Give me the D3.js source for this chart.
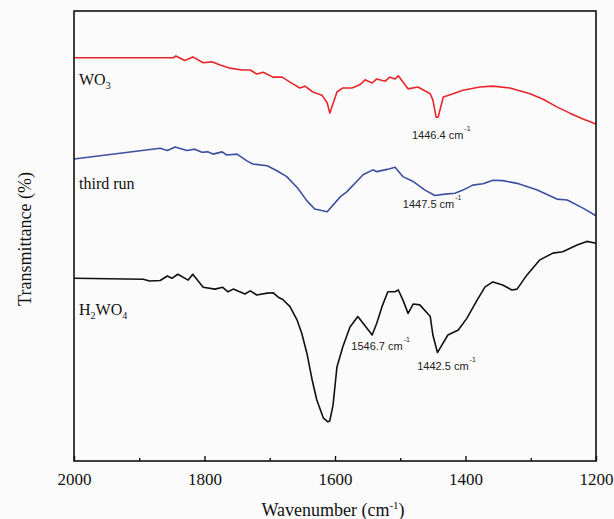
<!DOCTYPE html>
<html>
<head>
<meta charset="utf-8">
<script src="https://cdn.jsdelivr.net/npm/d3@7"></script>
<style>
  html, body { margin: 0; padding: 0; background: #fbfbfb; }
  svg { display: block; }
</style>
</head>
<body>
<svg id="chart" width="614" height="519"></svg>
<script>
// ---- data (wavenumber in cm-1, transmittance in arbitrary %) ----
const wo3Wave = [2000,1848,1844,1830,1818,1802,1789,1776,1761,1743,1730,1720,1710,1695,1681,1669,1654,1646,1634,1620,1612,1608,1597,1588,1574,1562,1554,1543,1536,1523,1516,1508,1503,1488,1473,1454,1450,1445,1442,1434,1419,1404,1378,1358,1332,1301,1281,1260,1240,1220,1200];
const wo3Val  = [89.6,89.6,90.0,89.0,89.8,88.5,88.7,88.0,87.3,86.9,86.9,86.0,86.4,85.3,85.3,84.2,82.9,83.3,82.0,81.3,79.6,77.3,82.0,82.9,82.9,83.6,84.7,84.0,84.9,84.4,85.3,84.9,85.6,82.7,83.1,81.6,80.2,76.4,76.4,80.9,81.6,82.4,83.1,83.3,82.9,81.6,80.4,78.7,77.3,76.0,74.9];

const runWave = [2000,1868,1857,1845,1827,1815,1804,1795,1787,1773,1766,1750,1735,1726,1704,1689,1674,1657,1643,1631,1612,1592,1582,1557,1542,1536,1520,1508,1496,1480,1462,1447,1431,1416,1404,1389,1373,1358,1343,1321,1290,1260,1244,1220,1200];
const runVal  = [67.1,69.5,69.0,69.8,69.0,69.3,68.6,68.7,68.2,68.7,68.0,68.2,66.7,66.0,65.6,64.5,63.2,60.6,57.8,56.0,55.4,58.7,59.8,63.6,64.7,64.3,64.8,65.3,63.2,62.1,60.2,59.0,59.3,59.5,60.2,61.3,61.6,62.4,62.3,61.7,60.2,58.2,58.0,56.2,54.5];

const h2Wave = [2000,1894,1884,1868,1857,1850,1841,1825,1818,1802,1784,1772,1764,1756,1738,1730,1720,1704,1695,1687,1680,1669,1658,1651,1643,1638,1635,1628,1618,1611,1608,1603,1597,1588,1577,1565,1557,1543,1536,1528,1519,1508,1503,1496,1488,1480,1470,1454,1450,1443,1436,1427,1411,1398,1382,1370,1358,1343,1329,1321,1306,1286,1266,1251,1229,1214,1200];
const h2Val  = [40.6,40.4,40.0,40.1,41.1,40.6,41.5,40.2,41.5,38.6,38.2,38.6,37.6,38.2,37.1,37.8,36.9,37.3,37.4,36.4,35.9,34.3,31.3,28.4,23.9,20.2,18.0,13.6,9.6,8.7,8.9,12.4,20.9,25.4,29.8,32.1,30.6,28.0,30.6,34.3,37.6,37.6,38.0,35.8,32.8,34.9,34.7,32.1,28.0,24.1,25.8,28.0,29.1,31.7,35.8,38.7,39.8,39.1,38.0,38.2,41.3,44.7,46.2,46.5,48.0,48.8,48.4];

const xMajorTicks = [2000, 1800, 1600, 1400, 1200];
const xMinorTicks = [1900, 1700, 1500, 1300];

const seriesNames = ["WO3", "third run", "H2WO4"];
const seriesColors = ["#e8262c", "#3d4f9f", "#111111"];

// ---- layout ----
const svg = d3.select("#chart");
const mL = 74, mR = 596, mT = 11, mB = 461;

const x = d3.scaleLinear().domain([2000, 1200]).range([mL, mR]);
const y = d3.scaleLinear().domain([0, 100]).range([mB, mT]);

svg.append("rect").attr("width", 614).attr("height", 519).attr("fill", "#fbfbfb");

const series = [
  {wave: wo3Wave, val: wo3Val},
  {wave: runWave, val: runVal},
  {wave: h2Wave, val: h2Val}
];

const line = d3.line().x(d => x(d[0])).y(d => y(d[1]));

series.forEach((s, i) => {
  const pts = s.wave.map((w, k) => [w, s.val[k]]);
  svg.append("path")
    .datum(pts)
    .attr("d", line)
    .attr("fill", "none")
    .attr("stroke", seriesColors[i])
    .attr("stroke-width", 1.6)
    .attr("stroke-linejoin", "round");
});

// frame
svg.append("rect")
  .attr("x", mL).attr("y", mT)
  .attr("width", mR - mL).attr("height", mB - mT)
  .attr("fill", "none").attr("stroke", "#111").attr("stroke-width", 1.6);

// x axis (inward ticks)
const serif = "'Liberation Serif', 'Times New Roman', serif";
const xAxis = d3.axisBottom(x).tickValues(xMajorTicks).tickSize(-5).tickPadding(12).tickFormat(d3.format("d"));
const gx = svg.append("g").attr("transform", `translate(0,${mB})`).call(xAxis);
gx.select(".domain").remove();
gx.selectAll(".tick line").attr("stroke", "#111").attr("stroke-width", 1.4);
gx.selectAll(".tick text")
  .attr("font-family", serif)
  .attr("font-size", 17).attr("fill", "#111");

const xMinor = d3.axisBottom(x).tickValues(xMinorTicks).tickSize(-3).tickFormat("");
const gxm = svg.append("g").attr("transform", `translate(0,${mB})`).call(xMinor);
gxm.select(".domain").remove();
gxm.selectAll(".tick line").attr("stroke", "#111").attr("stroke-width", 1.4);

// axis titles
const xt = svg.append("text")
  .attr("x", (mL + mR) / 2 - 2).attr("y", 516)
  .attr("text-anchor", "middle")
  .attr("font-family", serif).attr("font-size", 18).attr("fill", "#111");
xt.append("tspan").text("Wavenumber (cm");
xt.append("tspan").attr("dy", -7).attr("font-size", 11).text("-1");
xt.append("tspan").attr("dy", 7).text(")");

svg.append("text")
  .attr("transform", `translate(31,${(mT + mB) / 2 + 3}) rotate(-90)`)
  .attr("text-anchor", "middle")
  .attr("font-family", serif).attr("font-size", 18).attr("fill", "#111")
  .text("Transmittance (%)");

// series labels
const labelY = [85, 189, 315];
function subLabel(parts, yy) {
  const t = svg.append("text").attr("x", 79).attr("y", yy)
    .attr("font-family", serif).attr("font-size", 16).attr("fill", "#111");
  parts.forEach(p => {
    const ts = t.append("tspan").text(p.t);
    if (p.sub) ts.attr("dy", 4).attr("font-size", 10);
    else if (p.back) ts.attr("dy", -4);
  });
}
subLabel([{t: "WO"}, {t: "3", sub: true}], labelY[0]);
subLabel([{t: "third run"}], labelY[1]);
subLabel([{t: "H"}, {t: "2", sub: true}, {t: "WO", back: true}, {t: "4", sub: true}], labelY[2]);

// peak annotations
const annos = [
  {text: "1446.4 cm", w: 1482, v: 71.6},
  {text: "1447.5 cm", w: 1496, v: 56.2},
  {text: "1546.7 cm", w: 1575, v: 24.7},
  {text: "1442.5 cm", w: 1474, v: 20.2}
];
annos.forEach(a => {
  const t = svg.append("text").attr("x", x(a.w)).attr("y", y(a.v))
    .attr("font-family", "'Liberation Sans', Arial, sans-serif")
    .attr("font-size", 11).attr("fill", "#222");
  t.append("tspan").text(a.text);
  t.append("tspan").attr("dy", -8).attr("dx", 1).attr("font-size", 7).text("-1");
});
</script>
</body>
</html>
